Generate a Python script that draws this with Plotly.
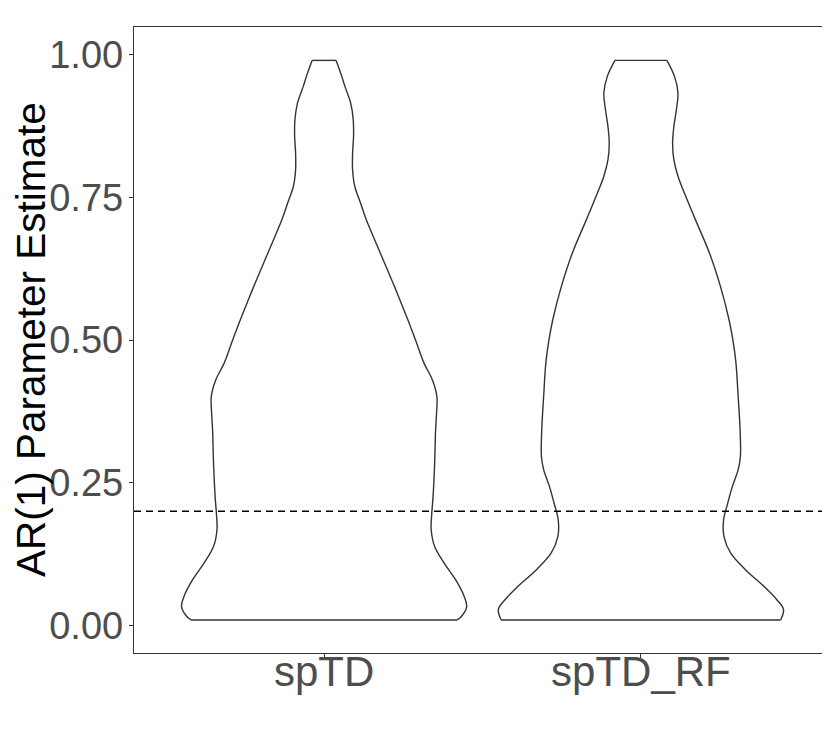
import plotly.graph_objects as go

# ---- data ----
categories = ["spTD", "spTD_RF"]
ref_line = 0.2
y_title = "AR(1) Parameter Estimate"

# violin outline: y levels and half-widths (in category-axis units)
sptd_y = [0.0095, 0.016, 0.033, 0.051, 0.080, 0.109, 0.138, 0.168, 0.197, 0.226,
          0.285, 0.343, 0.372, 0.401, 0.430, 0.460, 0.501, 0.536, 0.594, 0.653,
          0.711, 0.740, 0.769, 0.798, 0.828, 0.857, 0.886, 0.915, 0.944, 0.965, 0.990]
sptd_w = [0.420, 0.434, 0.450, 0.442, 0.415, 0.379, 0.349, 0.338, 0.340, 0.344,
          0.349, 0.352, 0.355, 0.356, 0.342, 0.315, 0.288, 0.264, 0.222, 0.177,
          0.133, 0.115, 0.097, 0.090, 0.090, 0.093, 0.092, 0.084, 0.066, 0.054, 0.038]

sptdrf_y = [0.0095, 0.028, 0.045, 0.068, 0.098, 0.127, 0.156, 0.185, 0.214, 0.244,
            0.273, 0.296, 0.343, 0.401, 0.460, 0.501, 0.536, 0.594, 0.653, 0.711,
            0.758, 0.787, 0.816, 0.845, 0.874, 0.904, 0.933, 0.962, 0.990]
sptdrf_w = [0.441, 0.450, 0.429, 0.389, 0.329, 0.283, 0.262, 0.261, 0.274, 0.289,
            0.307, 0.314, 0.313, 0.307, 0.300, 0.290, 0.278, 0.251, 0.216, 0.172,
            0.137, 0.117, 0.104, 0.100, 0.104, 0.112, 0.117, 0.106, 0.082]

y_ticks = [0.0, 0.25, 0.5, 0.75, 1.0]

violins = [(sptd_y, sptd_w), (sptdrf_y, sptdrf_w)]

OUTLINE = "#333333"
FONT = "Liberation Sans, Arial, Helvetica, sans-serif"

fig = go.Figure()
for i, (ys, ws) in enumerate(violins):
    c = i + 1
    right_x = [c + w for w in ws]
    left_x = [c - w for w in ws]
    # curved sides
    fig.add_trace(go.Scatter(
        x=right_x + [None] + left_x, y=ys + [None] + ys,
        mode="lines", line=dict(color=OUTLINE, width=1.4, shape="spline", smoothing=1.0),
        hoverinfo="skip", showlegend=False))
    # flat caps (trimmed ends)
    fig.add_trace(go.Scatter(
        x=[left_x[0], right_x[0], None, left_x[-1], right_x[-1]],
        y=[ys[0], ys[0], None, ys[-1], ys[-1]],
        mode="lines", line=dict(color=OUTLINE, width=1.4),
        hoverinfo="skip", showlegend=False))

fig.add_hline(y=ref_line, line=dict(color="black", width=1.3, dash="7px,5px"))

fig.update_layout(
    width=830, height=747,
    margin=dict(l=126, r=7, t=19, b=102),
    paper_bgcolor="white", plot_bgcolor="white",
    font=dict(family=FONT),
    showlegend=False,
)
fig.update_xaxes(
    range=[0.4, 2.6], tickvals=[1, 2], ticktext=categories,
    showgrid=False, zeroline=False, automargin=False,
    showline=True, mirror=True, linecolor=OUTLINE, linewidth=1.4,
    ticks="outside", ticklen=4, tickcolor=OUTLINE, tickwidth=1,
    ticklabelstandoff=-23,
    tickfont=dict(size=42, color="#4D4D4D", family=FONT),
)
fig.update_yaxes(
    range=[-0.0484, 1.0485], tickvals=y_ticks, tickformat=".2f",
    showgrid=False, zeroline=False, automargin=False,
    showline=True, mirror=True, linecolor=OUTLINE, linewidth=1.4,
    ticks="outside", ticklen=4, tickcolor=OUTLINE, tickwidth=1,
    ticklabelstandoff=-2,
    tickfont=dict(size=38, color="#4D4D4D", family=FONT),
)
fig.add_annotation(
    text=y_title, xref="paper", yref="paper", x=0, y=0.5,
    xanchor="center", yanchor="middle", xshift=-103, textangle=-90,
    borderpad=0, showarrow=False, font=dict(size=40.5, color="black", family=FONT),
)

fig.write_html("out.html")
